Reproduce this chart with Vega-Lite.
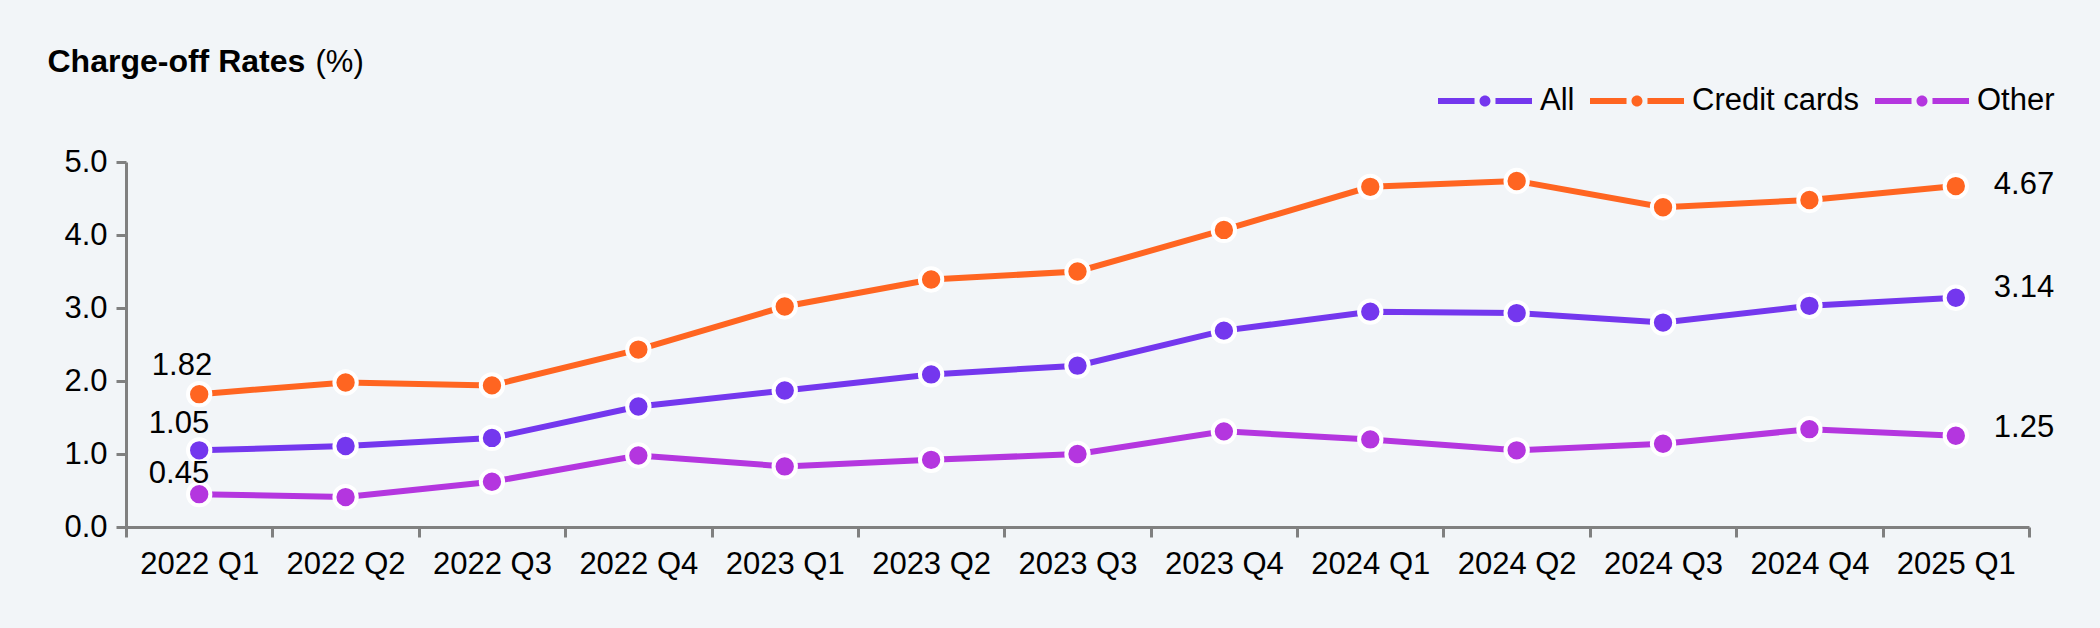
{
  "$schema": "https://vega.github.io/schema/vega-lite/v6.json",
  "width": 1903,
  "height": 365,
  "autosize": {"type": "none"},
  "padding": {"left": 126, "top": 162, "right": 71, "bottom": 101},
  "background": "#F2F5F8",
  "config": {"view": {"stroke": null}, "font": "Liberation Sans"},
  "data": {
    "values": [
      {"quarter": "2022 Q1", "series": "All", "value": 1.05},
      {"quarter": "2022 Q2", "series": "All", "value": 1.11},
      {"quarter": "2022 Q3", "series": "All", "value": 1.22},
      {"quarter": "2022 Q4", "series": "All", "value": 1.65},
      {"quarter": "2023 Q1", "series": "All", "value": 1.87},
      {"quarter": "2023 Q2", "series": "All", "value": 2.09},
      {"quarter": "2023 Q3", "series": "All", "value": 2.21},
      {"quarter": "2023 Q4", "series": "All", "value": 2.69},
      {"quarter": "2024 Q1", "series": "All", "value": 2.95},
      {"quarter": "2024 Q2", "series": "All", "value": 2.93},
      {"quarter": "2024 Q3", "series": "All", "value": 2.80},
      {"quarter": "2024 Q4", "series": "All", "value": 3.03},
      {"quarter": "2025 Q1", "series": "All", "value": 3.14},
      {"quarter": "2022 Q1", "series": "Credit cards", "value": 1.82},
      {"quarter": "2022 Q2", "series": "Credit cards", "value": 1.98},
      {"quarter": "2022 Q3", "series": "Credit cards", "value": 1.94},
      {"quarter": "2022 Q4", "series": "Credit cards", "value": 2.43},
      {"quarter": "2023 Q1", "series": "Credit cards", "value": 3.02},
      {"quarter": "2023 Q2", "series": "Credit cards", "value": 3.39},
      {"quarter": "2023 Q3", "series": "Credit cards", "value": 3.50},
      {"quarter": "2023 Q4", "series": "Credit cards", "value": 4.07},
      {"quarter": "2024 Q1", "series": "Credit cards", "value": 4.66},
      {"quarter": "2024 Q2", "series": "Credit cards", "value": 4.74},
      {"quarter": "2024 Q3", "series": "Credit cards", "value": 4.38},
      {"quarter": "2024 Q4", "series": "Credit cards", "value": 4.48},
      {"quarter": "2025 Q1", "series": "Credit cards", "value": 4.67},
      {"quarter": "2022 Q1", "series": "Other", "value": 0.45},
      {"quarter": "2022 Q2", "series": "Other", "value": 0.41},
      {"quarter": "2022 Q3", "series": "Other", "value": 0.62},
      {"quarter": "2022 Q4", "series": "Other", "value": 0.98},
      {"quarter": "2023 Q1", "series": "Other", "value": 0.83},
      {"quarter": "2023 Q2", "series": "Other", "value": 0.92},
      {"quarter": "2023 Q3", "series": "Other", "value": 1.00},
      {"quarter": "2023 Q4", "series": "Other", "value": 1.31},
      {"quarter": "2024 Q1", "series": "Other", "value": 1.20},
      {"quarter": "2024 Q2", "series": "Other", "value": 1.05},
      {"quarter": "2024 Q3", "series": "Other", "value": 1.14},
      {"quarter": "2024 Q4", "series": "Other", "value": 1.34},
      {"quarter": "2025 Q1", "series": "Other", "value": 1.25}
    ]
  },
  "encoding": {
    "x": {
      "field": "quarter",
      "type": "ordinal",
      "bandPosition": 0.5,
      "scale": {"type": "band", "paddingInner": 0, "paddingOuter": 0},
      "axis": {
        "title": "Charge-off Rates",
        "titleX": -79,
        "titleY": -456,
        "titleAlign": "left",
        "titleBaseline": "alphabetic",
        "titleAngle": 0,
        "titleFontSize": 32,
        "titleFontWeight": "bold",
        "titleColor": "#000000",
        "titleFont": "Liberation Sans",
        "labelAngle": 0,
        "labelFontSize": 31,
        "labelColor": "#000000",
        "labelFont": "Liberation Sans",
        "labelPadding": 12,
        "labelOverlap": false,
        "tickSize": 10,
        "tickWidth": 3,
        "tickColor": "#808080",
        "domainColor": "#808080",
        "domainWidth": 3,
        "tickBand": "extent",
        "grid": false
      }
    },
    "y": {
      "field": "value",
      "type": "quantitative",
      "scale": {"domain": [0, 5], "nice": false},
      "axis": {
        "title": "(%)",
        "titleX": 189,
        "titleY": -91,
        "titleAngle": 0,
        "titleAlign": "left",
        "titleBaseline": "alphabetic",
        "titleFontSize": 31,
        "titleFontWeight": "normal",
        "titleColor": "#000000",
        "titleFont": "Liberation Sans",
        "values": [0, 1, 2, 3, 4, 5],
        "format": ".1f",
        "labelFontSize": 31,
        "labelColor": "#000000",
        "labelFont": "Liberation Sans",
        "labelPadding": 9,
        "tickSize": 10,
        "tickWidth": 3,
        "tickColor": "#808080",
        "domainColor": "#808080",
        "domainWidth": 3,
        "grid": false
      }
    },
    "color": {
      "field": "series",
      "type": "nominal",
      "scale": {"domain": ["All", "Credit cards", "Other"], "range": ["#7437EE", "#FF6521", "#B436DF"]},
      "legend": {
        "title": null,
        "orient": "none",
        "legendX": 1312,
        "legendY": -108,
        "direction": "horizontal",
        "symbolType": "M-1,-0.064L-0.223,-0.064L-0.223,0.064L-1,0.064ZM0.223,-0.064L1,-0.064L1,0.064L0.223,0.064ZM0.117,0A0.117,0.117,0,1,1,-0.117,0A0.117,0.117,0,1,1,0.117,0Z",
        "symbolSize": 8836,
        "symbolStrokeWidth": 0,
        "labelFontSize": 31,
        "labelFont": "Liberation Sans",
        "labelColor": "#000000",
        "labelLimit": 500,
        "labelOffset": 8,
        "columnPadding": 15,
        "padding": 0,
        "encode": {
          "symbols": {
            "update": {
              "fill": {"scale": "color", "field": "value"},
              "stroke": {"value": "transparent"},
              "opacity": {"value": 1}
            }
          }
        }
      }
    }
  },
  "layer": [
    {"mark": {"type": "line", "strokeWidth": 6}},
    {"mark": {"type": "point", "filled": true, "shape": "circle", "size": 500, "stroke": "#FFFFFF", "strokeWidth": 4, "opacity": 1}},
    {
      "transform": [{"filter": "datum.quarter === '2022 Q1' && datum.series === 'Credit cards'"}],
      "mark": {"type": "text", "align": "right", "baseline": "alphabetic", "dx": 13, "dy": -19, "fontSize": 31, "font": "Liberation Sans"},
      "encoding": {"text": {"field": "value", "type": "quantitative", "format": ".2f"}, "color": {"value": "#000000"}}
    },
    {
      "transform": [{"filter": "datum.quarter === '2022 Q1' && datum.series === 'All'"}],
      "mark": {"type": "text", "align": "right", "baseline": "alphabetic", "dx": 10, "dy": -17, "fontSize": 31, "font": "Liberation Sans"},
      "encoding": {"text": {"field": "value", "type": "quantitative", "format": ".2f"}, "color": {"value": "#000000"}}
    },
    {
      "transform": [{"filter": "datum.quarter === '2022 Q1' && datum.series === 'Other'"}],
      "mark": {"type": "text", "align": "right", "baseline": "alphabetic", "dx": 10, "dy": -11, "fontSize": 31, "font": "Liberation Sans"},
      "encoding": {"text": {"field": "value", "type": "quantitative", "format": ".2f"}, "color": {"value": "#000000"}}
    },
    {
      "transform": [{"filter": "datum.quarter === '2025 Q1' && datum.series === 'Credit cards'"}],
      "mark": {"type": "text", "align": "left", "baseline": "alphabetic", "dx": 38, "dy": 8, "fontSize": 31, "font": "Liberation Sans"},
      "encoding": {"text": {"field": "value", "type": "quantitative", "format": ".2f"}, "color": {"value": "#000000"}}
    },
    {
      "transform": [{"filter": "datum.quarter === '2025 Q1' && datum.series === 'All'"}],
      "mark": {"type": "text", "align": "left", "baseline": "alphabetic", "dx": 38, "dy": -1, "fontSize": 31, "font": "Liberation Sans"},
      "encoding": {"text": {"field": "value", "type": "quantitative", "format": ".2f"}, "color": {"value": "#000000"}}
    },
    {
      "transform": [{"filter": "datum.quarter === '2025 Q1' && datum.series === 'Other'"}],
      "mark": {"type": "text", "align": "left", "baseline": "alphabetic", "dx": 38, "dy": 1, "fontSize": 31, "font": "Liberation Sans"},
      "encoding": {"text": {"field": "value", "type": "quantitative", "format": ".2f"}, "color": {"value": "#000000"}}
    }
  ]
}
